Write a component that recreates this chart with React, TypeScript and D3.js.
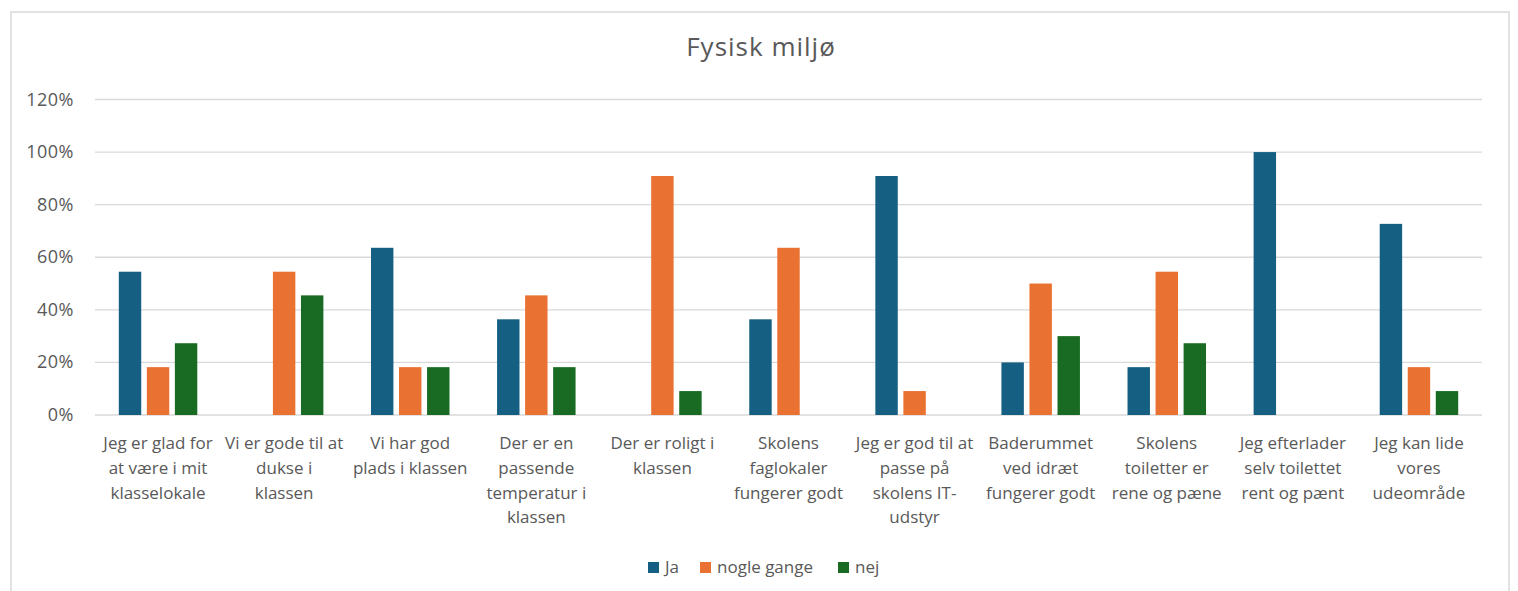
import React from "react";
import * as d3 from "d3";

const categories: string[][] = [
  ["Jeg er glad for", "at være i mit", "klasselokale"],
  ["Vi er gode til at", "dukse i", "klassen"],
  ["Vi har god", "plads i klassen"],
  ["Der er en", "passende", "temperatur i", "klassen"],
  ["Der er roligt i", "klassen"],
  ["Skolens", "faglokaler", "fungerer godt"],
  ["Jeg er god til at", "passe på", "skolens IT-", "udstyr"],
  ["Baderummet", "ved idræt", "fungerer godt"],
  ["Skolens", "toiletter er", "rene og pæne"],
  ["Jeg efterlader", "selv toilettet", "rent og pænt"],
  ["Jeg kan lide", "vores", "udeområde"],
];
const seriesNames = ["Ja", "nogle gange", "nej"];
const ja = [0.545, 0, 0.636, 0.364, 0, 0.364, 0.909, 0.2, 0.182, 1.0, 0.727];
const nogle = [0.182, 0.545, 0.182, 0.455, 0.909, 0.636, 0.091, 0.5, 0.545, 0, 0.182];
const nej = [0.273, 0.455, 0.182, 0.182, 0.091, 0, 0, 0.3, 0.273, 0, 0.091];
const yTicks = [0, 0.2, 0.4, 0.6, 0.8, 1.0, 1.2];
const colors = ["#156082", "#E97132", "#196B24"];

const W = 1518;
const H = 591;
const left = 95;
const right = 1482;
const top = 99.5;
const bottom = 415;
const font = "'Open Sans', sans-serif";
const textColor = "#595959";

export default function App() {
  const series = [ja, nogle, nej];
  const idx = categories.map((_, i) => i);
  const x0 = d3.scaleBand<number>().domain(idx).range([left, right]).paddingInner(0).paddingOuter(0);
  const groupW = 78.5;
  const x1 = d3
    .scaleBand<number>()
    .domain([0, 1, 2])
    .range([0, groupW])
    .paddingInner(0.2)
    .paddingOuter(0);
  const y = d3.scaleLinear().domain([0, 1.2]).range([bottom, top]);
  const fmt = d3.format(".0%");

  return (
    <svg
      width={W}
      height={H}
      style={{ position: "absolute", left: 0, top: 0, display: "block", background: "#fff" }}
    >
      <rect x={11} y={12} width={1498} height={600} fill="#fff" stroke="#d9d9d9" strokeWidth={1.5} />
      <text
        x={761}
        y={56}
        textAnchor="middle"
        fontFamily={font}
        fontSize={26}
        letterSpacing={1}
        fill={textColor}
      >
        Fysisk miljø
      </text>
      {yTicks.map((t) => (
        <g key={t}>
          <line x1={left} x2={right} y1={y(t)} y2={y(t)} stroke="#d9d9d9" strokeWidth={1.3} />
          <text
            x={74}
            y={y(t) + 6}
            textAnchor="end"
            fontFamily={font}
            fontSize={18}
            letterSpacing={0.5}
            fill={textColor}
          >
            {fmt(t)}
          </text>
        </g>
      ))}
      {series.map((vals, s) =>
        vals.map((v, i) =>
          v > 0 ? (
            <rect
              key={`${s}-${i}`}
              x={(x0(i) as number) + (x0.bandwidth() - groupW) / 2 + (x1(s) as number)}
              y={y(v)}
              width={x1.bandwidth()}
              height={bottom - y(v)}
              fill={colors[s]}
            />
          ) : null
        )
      )}
      {categories.map((lines, i) => (
        <text
          key={i}
          x={(x0(i) as number) + x0.bandwidth() / 2}
          y={449}
          textAnchor="middle"
          fontFamily={font}
          fontSize={17}
          fill={textColor}
        >
          {lines.map((l, k) => (
            <tspan key={k} x={(x0(i) as number) + x0.bandwidth() / 2} dy={k === 0 ? 0 : 24.8}>
              {l}
            </tspan>
          ))}
        </text>
      ))}
      {seriesNames.map((n, s) => {
        const xs = [648, 700, 838];
        return (
          <g key={n}>
            <rect x={xs[s]} y={562} width={11} height={11} fill={colors[s]} />
            <text x={xs[s] + 17} y={573} fontFamily={font} fontSize={17} fill={textColor}>
              {n}
            </text>
          </g>
        );
      })}
    </svg>
  );
}
